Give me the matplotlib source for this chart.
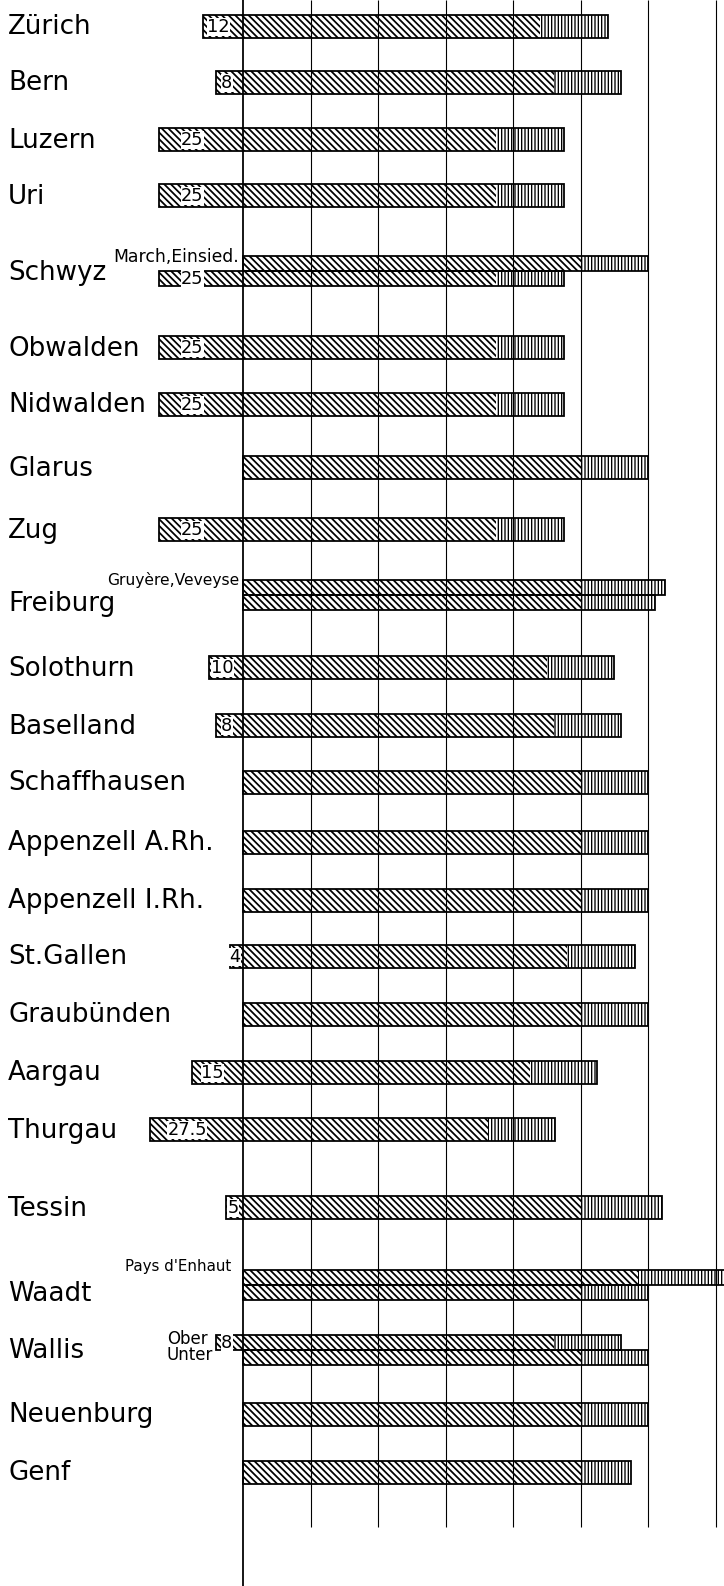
import numpy as np
import matplotlib.pyplot as plt

W, H, DPI = 724, 1586, 80
plt.rcParams['font.family'] = ['DejaVu Sans']
plt.rcParams['hatch.linewidth'] = 1.6

cantons = ['Zürich', 'Bern', 'Luzern', 'Uri', 'Schwyz', 'Obwalden', 'Nidwalden',
           'Glarus', 'Zug', 'Freiburg', 'Solothurn', 'Baselland', 'Schaffhausen',
           'Appenzell A.Rh.', 'Appenzell I.Rh.', 'St.Gallen', 'Graubünden', 'Aargau',
           'Thurgau', 'Tessin', 'Waadt', 'Wallis', 'Neuenburg', 'Genf']

# one entry per bar: canton index, sub row (0 single, 1 upper, 2 lower)
bar_canton = [0, 1, 2, 3, 4, 4, 5, 6, 7, 8, 9, 9, 10, 11, 12, 13, 14, 15, 16, 17,
              18, 19, 20, 20, 21, 21, 22, 23]
bar_slot = [0, 0, 0, 0, 1, 2, 0, 0, 0, 0, 1, 2, 0, 0, 0, 0, 0, 0, 0, 0,
            0, 0, 1, 2, 1, 2, 0, 0]
bar_start = [-12, -8, -25, -25, 0, -25, -25, -25, 0, -25, 0, 0, -10, -8, 0, 0, 0, -4,
             0, -15, -27.5, -5, 0, 0, -8, 0, 0, 0]
bar_mid = [88, 92, 75, 75, 100, 75, 75, 75, 100, 75, 100, 100, 90, 92, 100, 100, 100, 96,
           100, 85, 72.5, 100, 117, 100, 92, 100, 100, 100]
bar_end = [108, 112, 95, 95, 120, 95, 95, 95, 120, 95, 125, 122, 110, 112, 120, 120, 120, 116,
           120, 105, 92.5, 124, 143, 120, 112, 120, 120, 115]

sub_notes = {'Schwyz': 'March,Einsied.', 'Freiburg': 'Gruyère,Veveyse', 'Waadt': "Pays d'Enhaut"}
wallis_parts = ['Ober', 'Unter']
grid_x = [0, 20, 40, 60, 80, 100, 120, 140]

# layout (pixels)
row_y = [26, 82, 139, 195, 271, 347, 404, 467, 529, 595, 667, 725, 782, 842, 900, 956,
         1014, 1072, 1129, 1207, 1285, 1350, 1414, 1472]
note_style = {'Schwyz': (239, -2, 15.5), 'Freiburg': (239, -2, 14), 'Waadt': (231, -7, 13.5)}
X0, PPU = 243, 3.375
def px(x):
    return (x - X0) / PPU

fig = plt.figure(figsize=(W / DPI, H / DPI), dpi=DPI)
ax = fig.add_axes([0, 0, 1, 1])
ax.set_xlim(px(0), px(W))
ax.set_ylim(H, 0)
ax.axis('off')

start = np.array(bar_start, float)
mid = np.array(bar_mid, float)
end = np.array(bar_end, float)
slot = np.array(bar_slot)
yc = np.array([row_y[c] for c in bar_canton], float) + np.where(slot == 1, -7.5, np.where(slot == 2, 7.5, 0))
hh = np.where(slot == 0, 23, 15)

b1 = ax.barh(yc, mid - start, left=start, height=hh, color='white', edgecolor='black',
             linewidth=0, hatch='\\\\\\\\', zorder=2)
b2 = ax.barh(yc, end - mid, left=mid, height=hh, color='white', edgecolor='black',
             linewidth=0, hatch='||||', zorder=2)
for p in b2:
    if hasattr(p, 'set_hatch_linewidth'):
        p.set_hatch_linewidth(1.2)
ax.barh(yc, end - start, left=start, height=hh, fill=False, edgecolor='black',
        linewidth=1.6, zorder=3)

for s, y in zip(start, yc):
    if s < 0:
        ax.text(0.6 * s, y + 1, f'{-s:g}', ha='center', va='center', fontsize=16,
                zorder=4, bbox=dict(fc='white', ec='none', pad=0.3))

# grid
ax.vlines(grid_x[1:], 0, 1527, color='black', lw=1.0, zorder=5)
ax.vlines(0, 0, H, color='black', lw=1.6, zorder=5)

# labels
for i, name in enumerate(cantons):
    dy = 16 if name in ('Freiburg', 'Waadt') else 8.5
    ax.text(px(8), row_y[i] + dy, name, ha='left', va='baseline', fontsize=23.5)
    if name in sub_notes:
        xr, off, fs = note_style[name]
        ax.text(px(xr), row_y[i] - 7.5 + off, sub_notes[name],
                ha='right', va='baseline', fontsize=fs, zorder=4,
                bbox=dict(fc='white', ec='none', pad=0.3))
    if name == 'Wallis':
        for k, part in enumerate(wallis_parts):
            ax.text(px(167), row_y[i] - 7.5 + 16 * k + 2, part, ha='left', va='baseline',
                    fontsize=15)

fig.savefig('out.png', dpi=DPI)
